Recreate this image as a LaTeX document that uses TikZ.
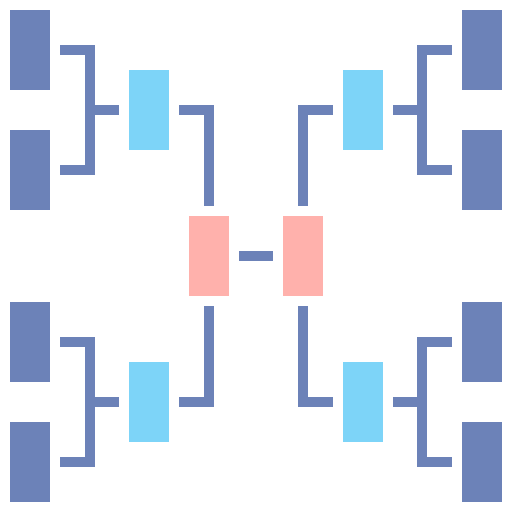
\documentclass[tikz,border=0pt]{standalone}
\usetikzlibrary{calc}
\definecolor{darkb}{HTML}{6C82B8}
\definecolor{lightb}{HTML}{7DD4F8}
\definecolor{pinkc}{HTML}{FFB1AC}
\begin{document}
\begin{tikzpicture}[x=1pt,y=-1pt,
  box/.style={inner sep=0pt,minimum width=40pt,minimum height=80pt,draw=none},
  team/.style={box,fill=darkb},
  semi/.style={box,fill=lightb},
  final/.style={box,fill=pinkc},
  link/.style={draw=darkb,line width=10pt,line cap=butt,line join=miter}]
\fill[white] (0,0) rectangle (512,512);
\useasboundingbox (0,0) rectangle (512,512);
% teams
\node[team] (d1) at (30,50) {};
\node[team] (d2) at (30,170) {};
\node[team] (d3) at (30,342) {};
\node[team] (d4) at (30,462) {};
\node[team] (d5) at (482,50) {};
\node[team] (d6) at (482,170) {};
\node[team] (d7) at (482,342) {};
\node[team] (d8) at (482,462) {};
% semifinal
\node[semi] (l1) at (149,110) {};
\node[semi] (l2) at (149,402) {};
\node[semi] (l3) at (363,110) {};
\node[semi] (l4) at (363,402) {};
% final
\node[final] (p1) at (209,256) {};
\node[final] (p2) at (303,256) {};
% left brackets
\draw[link] ($(d1.east)+(10,0)$) -- ++(30,0) |- ($(d2.east)+(10,0)$);
\draw[link] ($(l1.west)+(-10,0)$) -- ++(-29,0);
\draw[link] ($(d3.east)+(10,0)$) -- ++(30,0) |- ($(d4.east)+(10,0)$);
\draw[link] ($(l2.west)+(-10,0)$) -- ++(-29,0);
% right brackets
\draw[link] ($(d5.west)+(-10,0)$) -- ++(-30,0) |- ($(d6.west)+(-10,0)$);
\draw[link] ($(l3.east)+(10,0)$) -- ++(29,0);
\draw[link] ($(d7.west)+(-10,0)$) -- ++(-30,0) |- ($(d8.west)+(-10,0)$);
\draw[link] ($(l4.east)+(10,0)$) -- ++(29,0);
% to final
\draw[link] ($(l1.east)+(10,0)$) -| ($(p1.north)+(0,-10)$);
\draw[link] ($(l2.east)+(10,0)$) -| ($(p1.south)+(0,10)$);
\draw[link] ($(l3.west)+(-10,0)$) -| ($(p2.north)+(0,-10)$);
\draw[link] ($(l4.west)+(-10,0)$) -| ($(p2.south)+(0,10)$);
\draw[link] ($(p1.east)+(10,0)$) -- ($(p2.west)+(-10,0)$);
\end{tikzpicture}
\end{document}
